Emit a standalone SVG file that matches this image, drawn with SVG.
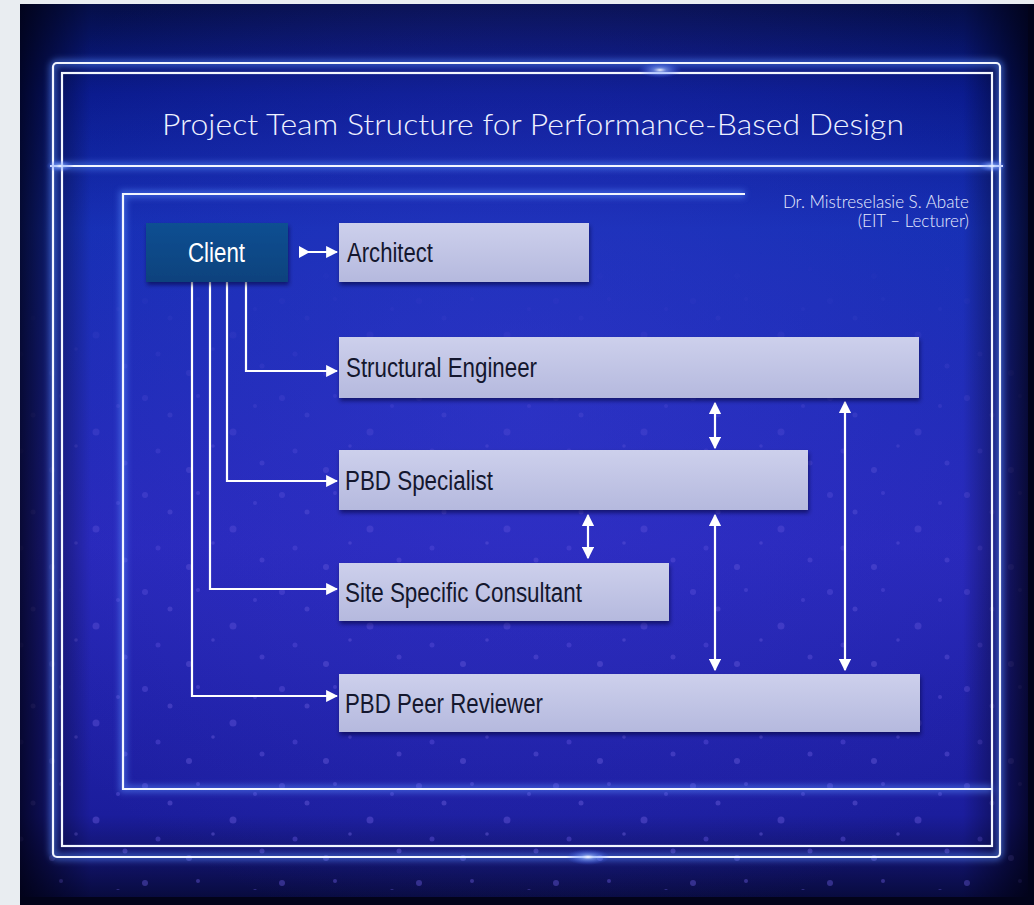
<svg xmlns="http://www.w3.org/2000/svg" width="1034" height="905" viewBox="0 0 1034 905">
  <defs>
    <style>
      .frame { fill: none; stroke: #f2f6ff; stroke-width: 2.2; }
      .glow { fill: none; stroke: #5a8cff; stroke-width: 7; opacity: 0.55; }
      .box { fill: url(#boxGrad); filter: url(#shadow); }
      .lbl { font-family: "Liberation Sans", Arial, sans-serif; font-size: 27px; fill: #14172e; }
      .conn { fill: none; stroke: #ffffff; stroke-width: 2.2; }
      .title { font-family: Lato, "Open Sans", sans-serif; font-weight: 300; font-size: 29px; fill: #eef1ff; }
      .author { font-family: Lato, "Open Sans", sans-serif; font-weight: 300; font-size: 17px; fill: #e8ecff; text-anchor: end; }
    </style>
    <linearGradient id="bg" x1="0" y1="0" x2="0" y2="1">
      <stop offset="0" stop-color="#06104e"/>
      <stop offset="0.1" stop-color="#0a1d9a"/>
      <stop offset="0.25" stop-color="#1634c4"/>
      <stop offset="0.6" stop-color="#2c2ccc"/>
      <stop offset="0.9" stop-color="#1e20ac"/>
      <stop offset="1" stop-color="#070a3a"/>
    </linearGradient>
    <linearGradient id="sideShade" x1="0" y1="0" x2="1" y2="0">
      <stop offset="0" stop-color="#000010" stop-opacity="0.8"/>
      <stop offset="0.07" stop-color="#000010" stop-opacity="0.1"/>
      <stop offset="0.93" stop-color="#000010" stop-opacity="0.1"/>
      <stop offset="1" stop-color="#000010" stop-opacity="0.85"/>
    </linearGradient>
    <radialGradient id="centerGlow" cx="0.5" cy="0.45" r="0.6">
      <stop offset="0" stop-color="#4040ea" stop-opacity="0.45"/>
      <stop offset="1" stop-color="#4040ea" stop-opacity="0"/>
    </radialGradient>
    <radialGradient id="flare" cx="0.5" cy="0.5" r="0.5">
      <stop offset="0" stop-color="#ffffff" stop-opacity="0.95"/>
      <stop offset="0.3" stop-color="#8fb0ff" stop-opacity="0.6"/>
      <stop offset="1" stop-color="#3a5cff" stop-opacity="0"/>
    </radialGradient>
    <linearGradient id="boxGrad" x1="0" y1="0" x2="0" y2="1">
      <stop offset="0" stop-color="#cdd0ec"/>
      <stop offset="1" stop-color="#b5b9de"/>
    </linearGradient>
    <linearGradient id="clientGrad" x1="0" y1="0" x2="0" y2="1">
      <stop offset="0" stop-color="#0d4f92"/>
      <stop offset="1" stop-color="#0a427d"/>
    </linearGradient>
    <pattern id="dots" x="0" y="0" width="137" height="97" patternUnits="userSpaceOnUse">
      <circle cx="8" cy="10" r="3" fill="#7f6cff"/>
      <circle cx="33" cy="27" r="2.5" fill="#8a78ff"/>
      <circle cx="61" cy="8" r="2" fill="#7f6cff"/>
      <circle cx="96" cy="44" r="3.5" fill="#8570ff"/>
      <circle cx="21" cy="63" r="2.5" fill="#7a66ff"/>
      <circle cx="52" cy="82" r="3" fill="#8a78ff"/>
      <circle cx="118" cy="18" r="2" fill="#7f6cff"/>
      <circle cx="125" cy="75" r="2.5" fill="#8570ff"/>
      <circle cx="76" cy="58" r="1.8" fill="#8a78ff"/>
    </pattern>
    <linearGradient id="dotFade" x1="0" y1="0" x2="0" y2="1">
      <stop offset="0" stop-color="#fff" stop-opacity="0"/>
      <stop offset="0.35" stop-color="#fff" stop-opacity="0.25"/>
      <stop offset="1" stop-color="#fff" stop-opacity="0.4"/>
    </linearGradient>
    <mask id="dotMask">
      <rect x="20" y="250" width="1014" height="640" fill="url(#dotFade)"/>
    </mask>
    <filter id="blur" x="-5%" y="-5%" width="110%" height="110%">
      <feGaussianBlur stdDeviation="3"/>
    </filter>
    <filter id="shadow" x="-5%" y="-20%" width="110%" height="150%">
      <feDropShadow dx="1" dy="3" stdDeviation="2" flood-color="#000030" flood-opacity="0.55"/>
    </filter>
    <marker id="arr" viewBox="0 0 10 10" refX="9" refY="5" markerWidth="5.5" markerHeight="5.5" orient="auto-start-reverse" markerUnits="strokeWidth">
      <path d="M0,0 L10,5 L0,10 z" fill="#ffffff"/>
    </marker>
  </defs>

  <!-- page -->
  <rect x="0" y="0" width="1034" height="905" fill="#e9edf1"/>
  <g id="background">
    <rect x="20" y="4" width="1014" height="901" fill="url(#bg)"/>
    <rect x="20" y="4" width="1014" height="901" fill="url(#centerGlow)"/>
    <rect x="20" y="250" width="1014" height="640" fill="url(#dots)" mask="url(#dotMask)"/>
    <rect x="20" y="4" width="1014" height="901" fill="url(#sideShade)"/>
    <rect x="20" y="897" width="1014" height="8" fill="#02031a"/>
    <rect x="1028" y="4" width="6" height="901" fill="#02031a"/>
  </g>

  <!-- frame -->
  <g id="frame">
    <g filter="url(#blur)">
      <rect class="glow" x="53" y="63" width="947" height="794" rx="4"/>
      <line class="glow" x1="53" y1="166" x2="1000" y2="166"/>
    </g>
    <rect class="frame" x="53" y="63" width="947" height="794" rx="4"/>
    <rect class="frame" x="62" y="73" width="930" height="773"/>
    <line class="frame" x1="50" y1="166" x2="1003" y2="166"/>
    <ellipse cx="660" cy="70" rx="22" ry="8" fill="url(#flare)"/>
    <ellipse cx="588" cy="857" rx="22" ry="8" fill="url(#flare)"/>
    <ellipse cx="60" cy="166" rx="14" ry="6" fill="url(#flare)"/>
    <ellipse cx="992" cy="166" rx="14" ry="6" fill="url(#flare)"/>
    <!-- content box -->
    <path class="glow" filter="url(#blur)" d="M745,194 H123 V789 H992"/>
    <path class="frame" d="M745,194 H123 V789 H992"/>
  </g>

  <g id="title">
    <text class="title" x="162" y="135" textLength="742" lengthAdjust="spacingAndGlyphs">Project Team Structure for Performance-Based Design</text>
  </g>
  <g id="author">
    <text class="author" x="969" y="208">Dr. Mistreselasie S. Abate</text>
    <text class="author" x="969" y="227">(EIT – Lecturer)</text>
  </g>

  <!-- connectors -->
  <g id="connectors">
    <path class="conn" d="M300,252 H337" marker-end="url(#arr)"/>
    <path d="M299,246 L310,252 L299,258 z" fill="#ffffff"/>
    <path class="conn" d="M246,282 V371 H337" marker-end="url(#arr)"/>
    <path class="conn" d="M227,282 V481 H337" marker-end="url(#arr)"/>
    <path class="conn" d="M210,282 V589 H337" marker-end="url(#arr)"/>
    <path class="conn" d="M192,282 V696 H337" marker-end="url(#arr)"/>
    <path class="conn" d="M715,403 V448" marker-start="url(#arr)" marker-end="url(#arr)"/>
    <path class="conn" d="M588,515 V558" marker-start="url(#arr)" marker-end="url(#arr)"/>
    <path class="conn" d="M715,515 V670" marker-start="url(#arr)" marker-end="url(#arr)"/>
    <path class="conn" d="M845,402 V670" marker-start="url(#arr)" marker-end="url(#arr)"/>
  </g>

  <!-- nodes -->
  <g id="client">
    <rect x="146" y="223" width="142" height="59" fill="url(#clientGrad)" filter="url(#shadow)"/>
    <text x="188" y="262" font-family="Liberation Sans, Arial, sans-serif" font-size="27" fill="#ffffff" textLength="57" lengthAdjust="spacingAndGlyphs">Client</text>
  </g>
  <g id="architect">
    <rect class="box" x="339" y="223" width="250" height="59"/>
    <text class="lbl" x="347" y="262" textLength="86" lengthAdjust="spacingAndGlyphs">Architect</text>
  </g>
  <g id="structural-engineer">
    <rect class="box" x="339" y="337" width="580" height="61"/>
    <text class="lbl" x="346" y="377" textLength="191" lengthAdjust="spacingAndGlyphs">Structural Engineer</text>
  </g>
  <g id="pbd-specialist">
    <rect class="box" x="339" y="450" width="469" height="60"/>
    <text class="lbl" x="345" y="490" textLength="148" lengthAdjust="spacingAndGlyphs">PBD Specialist</text>
  </g>
  <g id="site-specific-consultant">
    <rect class="box" x="339" y="563" width="330" height="58"/>
    <text class="lbl" x="345" y="602" textLength="237" lengthAdjust="spacingAndGlyphs">Site Specific Consultant</text>
  </g>
  <g id="pbd-peer-reviewer">
    <rect class="box" x="339" y="674" width="581" height="58"/>
    <text class="lbl" x="345" y="713" textLength="198" lengthAdjust="spacingAndGlyphs">PBD Peer Reviewer</text>
  </g>
</svg>
